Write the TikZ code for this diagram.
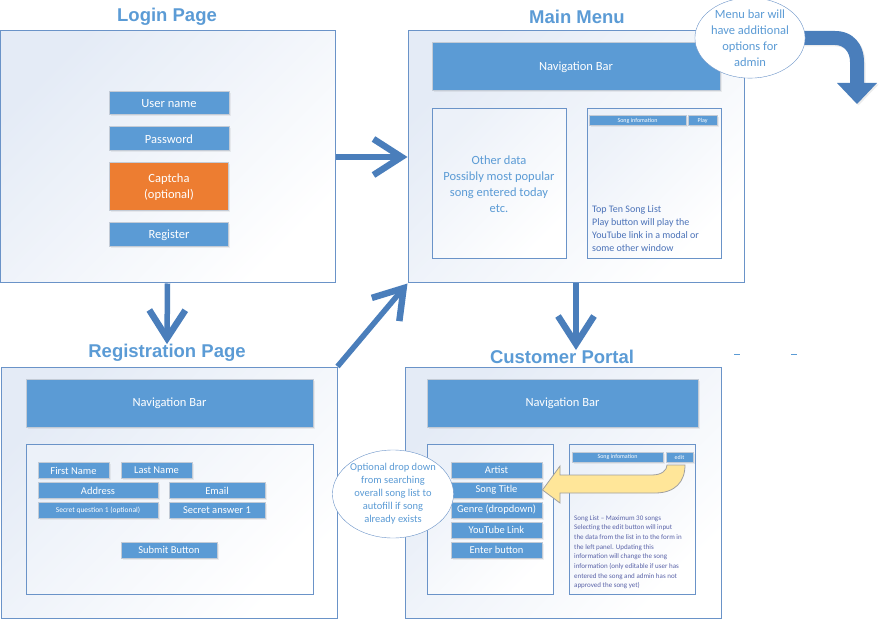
\documentclass[tikz,border=0pt]{standalone}
\usepackage{fontspec}
\setmainfont{Carlito}
\newfontfamily\titlefont{Liberation Sans}
\usepackage{tikz}
\usetikzlibrary{shapes.geometric,arrows.meta,positioning,shadows}
\definecolor{accent}{HTML}{5B9BD5}
\definecolor{edgeblue}{HTML}{6A93C8}
\definecolor{flowblue}{HTML}{4A7EBB}
\definecolor{btnedge}{HTML}{C3CBD6}
\definecolor{shadeblue}{HTML}{E4EBF6}
\definecolor{notetext}{HTML}{4B72B8}
\definecolor{listtext}{HTML}{5A63A8}
\definecolor{captcha}{HTML}{ED7D31}
\definecolor{yellowfill}{HTML}{FFE699}
\definecolor{yellowedge}{HTML}{A0A0A0}
\tikzset
{
    pageframe/.style = {draw=edgeblue, line width=1pt, top color=shadeblue, bottom color=white, shading angle=45, inner sep=0pt},
    panel/.style     = {draw=edgeblue, line width=1pt, top color=shadeblue!70!white, bottom color=white, shading angle=45, inner sep=0pt, align=center},
    fieldbox/.style  = {rectangle, fill=accent, draw=btnedge, line width=1pt, text=white, align=center, inner sep=0pt, font=\fontsize{10.5}{12}\selectfont, drop shadow={opacity=0.12, shadow xshift=1.5pt, shadow yshift=-1.5pt}},
    bigtext/.style   = {font=\fontsize{12.5}{16}\selectfont},
    tinytext/.style  = {font=\fontsize{6}{7}\selectfont},
    pagetitle/.style = {font=\titlefont\bfseries\fontsize{18.5}{22}\selectfont, text=accent, inner sep=0pt},
    note/.style      = {ellipse, draw=edgeblue, fill=white, align=center, inner sep=0pt, text=accent},
    flow/.style      = {draw=flowblue, line width=5.5pt, -{Straight Barb[length=28pt, width=36pt, line width=6.5pt]}},
    wd/.style        = {minimum width=#1pt},
    ht/.style        = {minimum height=#1pt}
}

\begin{document}
\begin{tikzpicture}[x=1pt, y=-1pt]
\useasboundingbox (0,0) rectangle (894,620);

\node[pagetitle] (logintitle) at (167,17) {Login Page};
\node[pageframe, wd=335, ht=252] (login) at (167.5,157) {};
\node[fieldbox, bigtext, wd=120, ht=23] (username) at (169,103.5) {User name};
\node[fieldbox, bigtext, wd=120, ht=24, below=11pt of username] (password) {Password};
\node[fieldbox, bigtext, wd=119, ht=48, fill=captcha, below=11pt of password] (captchabox) {Captcha\\(optional)};
\node[fieldbox, bigtext, wd=119, ht=24, below=11pt of captchabox] (register) {Register};

\node[pagetitle] (maintitle) at (577,17) {Main Menu};
\node[pageframe, wd=336, ht=252] (main) at (576,157) {};
\node[fieldbox, bigtext, wd=288, ht=48] (mainnav) at (576,67) {Navigation Bar};
\node[panel, wd=134, ht=150, bigtext, text=accent] (otherdata) at (499,184) {Other data\\Possibly most popular\\song entered today\\etc.};
\node[panel, wd=134, ht=150] (topten) at (654,184) {};
\node[fieldbox, tinytext, wd=97, ht=10] (songinfo) at (637.5,121) {Song infomation};
\node[fieldbox, tinytext, wd=29, ht=10] (play) at (702.5,121) {Play};
\node[anchor=north west, align=left, inner sep=0pt, text=notetext, font=\fontsize{10}{13.3}\selectfont] (toptentext) at (592,205) {Top Ten Song List\\Play button will play the\\YouTube link in a modal or\\some other window};

\fill[flowblue, drop shadow={opacity=0.15, shadow xshift=1.5pt, shadow yshift=-1.5pt}] (795,31) -- (835,31) .. controls (853,31) and (864,44) .. (864,62) -- (864,83) -- (877,83) -- (857,104) -- (837,83) -- (850,83) -- (850,62) .. controls (850,52) and (844,45) .. (835,45) -- (795,45) -- cycle;
\node[note, bigtext, wd=108, ht=70] (adminnote) at (750,38) {Menu bar will\\have additional\\options for\\admin};

\node[pagetitle] (regtitle) at (167,353) {Registration Page};
\node[pageframe, wd=336, ht=251] (reg) at (169,492.5) {};
\node[fieldbox, bigtext, wd=287, ht=48] (regnav) at (169.5,403) {Navigation Bar};
\node[panel, wd=287, ht=150] (regform) at (169.5,519) {};
\node[fieldbox, wd=71, ht=16] (firstname) at (73.5,470.5) {First Name};
\node[fieldbox, wd=71, ht=16] (lastname) at (156.5,470.5) {Last Name};
\node[fieldbox, wd=120, ht=16] (address) at (98,490.5) {Address};
\node[fieldbox, wd=96, ht=16] (email) at (217,490.5) {Email};
\node[fieldbox, wd=120, ht=16, font=\fontsize{7.5}{9}\selectfont] (secretq) at (98,510.5) {Secret question 1 (optional)};
\node[fieldbox, wd=96, ht=16] (secreta) at (217,510.5) {Secret answer 1};
\node[fieldbox, wd=96, ht=16] (submit) at (169,550) {Submit Button};

\node[pagetitle] (portaltitle) at (562,357) {Customer Portal};
\node[pageframe, wd=316, ht=251] (portal) at (563,492.5) {};
\node[fieldbox, bigtext, wd=271, ht=48] (portalnav) at (562.5,403) {Navigation Bar};
\node[panel, wd=126, ht=150] (songform) at (490,519) {};
\node[panel, wd=126, ht=150] (songlist) at (632,519) {};
\node[fieldbox, wd=91, ht=16] (artist) at (496.5,470) {Artist};
\node[fieldbox, wd=91, ht=16, below=3pt of artist] (songtitle) {Song Title};
\node[fieldbox, wd=91, ht=16, below=3pt of songtitle] (genre) {Genre (dropdown)};
\node[fieldbox, wd=91, ht=16, below=3pt of genre] (youtube) {YouTube Link};
\node[fieldbox, wd=91, ht=16, below=3pt of youtube] (enter) {Enter button};
\node[fieldbox, tinytext, wd=91, ht=10] (listinfo) at (617.5,457) {Song infomation};
\node[fieldbox, tinytext, wd=27, ht=10] (edit) at (679.5,457) {edit};
\node[anchor=north west, align=left, inner sep=0pt, text=listtext, font=\fontsize{7}{9.7}\selectfont] (listtext) at (574,515) {Song List -- Maximum 30 songs\\Selecting the edit button will input\\the data from the list in to the form in\\the left panel. Updating this\\information will change the song\\information (only editable if user has\\entered the song and admin has not\\approved the song yet)};
\draw[yellowedge, fill=yellowfill, line width=0.8pt] (songtitle.east) -- (560,466) -- (560,475) -- (652,475) .. controls (662,475) and (667,470) .. (667,465) -- (685,465) .. controls (685,482) and (675,493) .. (655,493) -- (560,493) -- (560,503) -- cycle;
\node[note, font=\fontsize{10.5}{13}\selectfont, wd=111, ht=88] (autofill) at (393,494) {Optional drop down\\from searching\\overall song list to\\autofill if song\\already exists};
\draw[accent, line width=1pt] (734,354) -- (740,354);
\draw[accent, line width=1pt] (791,354) -- (797,354);

\draw[flow] (login.east) -- (main.west);
\draw[flow] (login.south) -- (regtitle.north);
\draw[flow] (reg.north east) -- (main.south west);
\draw[flow] (main.south) -- (main.south |- portaltitle.north);
\end{tikzpicture}
\end{document}
